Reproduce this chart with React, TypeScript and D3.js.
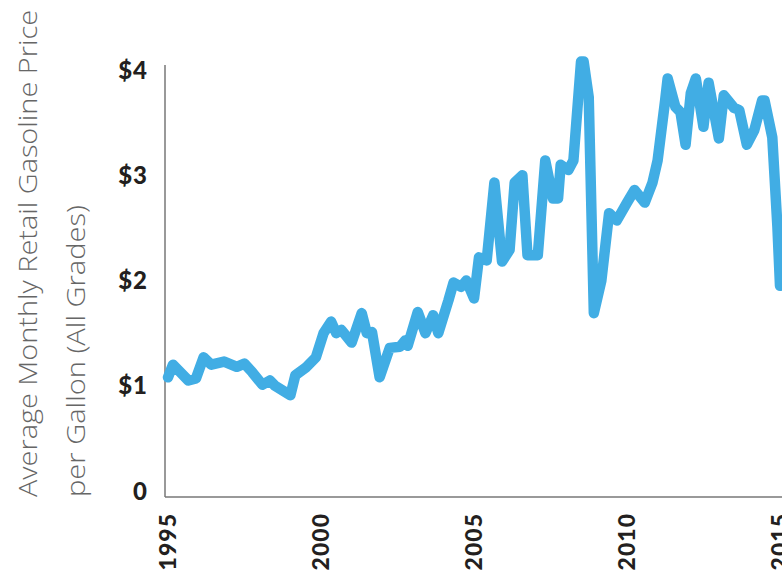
import { useEffect, useRef } from "react"
import * as d3 from "d3"

// monthly average retail gasoline price, all grades
const months = [
  "1995-01", "1995-03", "1995-09", "1995-12", "1996-03", "1996-06", "1996-11", "1997-04",
  "1997-07", "1997-10", "1998-02", "1998-05", "1998-07", "1999-01", "1999-03", "1999-07",
  "1999-11", "2000-02", "2000-05", "2000-07", "2000-09", "2001-01", "2001-05", "2001-07",
  "2001-09", "2001-12", "2002-04", "2002-08", "2002-10", "2002-11", "2003-03", "2003-06",
  "2003-09", "2003-11", "2004-03", "2004-05", "2004-08", "2004-10", "2005-01", "2005-03",
  "2005-06", "2005-09", "2005-12", "2006-03", "2006-05", "2006-08", "2006-10", "2007-02",
  "2007-05", "2007-08", "2007-10", "2007-11", "2008-02", "2008-04", "2008-07", "2008-08",
  "2008-10", "2008-12", "2009-03", "2009-06", "2009-09", "2010-01", "2010-04", "2010-08",
  "2010-11", "2011-01", "2011-04", "2011-05", "2011-08", "2011-10", "2011-12", "2012-02",
  "2012-04", "2012-07", "2012-09", "2013-01", "2013-03", "2013-07", "2013-09", "2013-12",
  "2014-03", "2014-06", "2014-07", "2014-10", "2014-12", "2015-01", "2015-03",
]
const prices = [
  1.08, 1.2, 1.05, 1.07, 1.27, 1.2, 1.23, 1.18,
  1.21, 1.13, 1.01, 1.05, 1.0, 0.91, 1.1, 1.17,
  1.27, 1.5, 1.61, 1.5, 1.53, 1.41, 1.69, 1.5,
  1.51, 1.08, 1.36, 1.37, 1.43, 1.38, 1.7, 1.5,
  1.67, 1.5, 1.81, 1.98, 1.94, 2.0, 1.83, 2.22,
  2.19, 2.93, 2.18, 2.29, 2.93, 3.0, 2.24, 2.24,
  3.14, 2.78, 2.78, 3.1, 3.05, 3.14, 4.08, 4.08,
  3.74, 1.69, 2.0, 2.64, 2.57, 2.74, 2.86, 2.74,
  2.93, 3.14, 3.71, 3.92, 3.65, 3.6, 3.29, 3.78,
  3.92, 3.46, 3.88, 3.35, 3.76, 3.64, 3.62, 3.29,
  3.43, 3.71, 3.71, 3.36, 2.51, 1.95, 2.3,
]
const yTicks = [0, 1, 2, 3, 4]
const xTickYears = [1995, 2000, 2005, 2010, 2015]
const titleLines = ["Average Monthly Retail Gasoline Price", "per Gallon (All Grades)"]
const titleLengths = [487, 292]

const W = 782
const H = 584

const App = () => {
  const svgRef = useRef<SVGSVGElement>(null)

  useEffect(() => {
    const svg = d3.select(svgRef.current)
    svg.selectAll("*").remove()

    const parseMonth = d3.timeParse("%Y-%m")
    const data = months.map((m, i) => ({ date: parseMonth(m) as Date, value: prices[i] }))

    const x = d3
      .scaleTime()
      .domain([new Date(1995, 0, 1), new Date(2015, 0, 1)])
      .range([168, 780])
    const y = d3.scaleLinear().domain([0, 4]).range([491, 70])

    const axisX = 165
    const axisBottom = 497
    const tickFont = "Lato, 'DejaVu Sans', sans-serif"

    // axis lines
    svg.append("line")
      .attr("x1", axisX).attr("x2", axisX)
      .attr("y1", 65).attr("y2", axisBottom)
      .attr("stroke", "#777").attr("stroke-width", 1.5)
    svg.append("line")
      .attr("x1", axisX).attr("x2", W)
      .attr("y1", axisBottom).attr("y2", axisBottom)
      .attr("stroke", "#777").attr("stroke-width", 1.5)

    // y tick labels
    svg.append("g")
      .selectAll("text")
      .data(yTicks)
      .join("text")
      .attr("x", 148)
      .attr("y", (d) => y(d))
      .attr("dy", "0.36em")
      .attr("text-anchor", "end")
      .style("font-family", tickFont)
      .style("font-weight", 900)
      .style("font-size", "24px")
      .style("letter-spacing", "1px")
      .style("fill", "#231f20")
      .text((d) => (d === 0 ? "0" : `$${d}`))

    // x tick labels, rotated
    svg.append("g")
      .selectAll("text")
      .data(xTickYears)
      .join("text")
      .attr("transform", (d) => `translate(${x(new Date(d, 0, 1))},513) rotate(-90)`)
      .attr("dy", "0.36em")
      .attr("text-anchor", "end")
      .style("font-family", tickFont)
      .style("font-weight", 900)
      .style("font-size", "23px")
      .style("letter-spacing", "1px")
      .style("fill", "#231f20")
      .text((d) => d)

    // y axis title
    svg.append("g")
      .selectAll("text")
      .data(titleLines)
      .join("text")
      .attr("transform", (_, i) => `translate(${37 + i * 48},497) rotate(-90)`)
      .attr("text-anchor", "start")
      .attr("textLength", (_, i) => titleLengths[i])
      .attr("lengthAdjust", "spacingAndGlyphs")
      .style("font-family", "'Open Sans', sans-serif")
      .style("font-weight", 300)
      .style("font-size", "25px")
      .style("fill", "#666")
      .text((d) => d)

    const line = d3
      .line<{ date: Date; value: number }>()
      .x((d) => x(d.date))
      .y((d) => y(d.value))

    svg.append("path")
      .datum(data)
      .attr("fill", "none")
      .attr("stroke", "#41ade4")
      .attr("stroke-width", 10.5)
      .attr("stroke-linejoin", "round")
      .attr("stroke-linecap", "round")
      .attr("d", line)
  }, [])

  return (
    <svg
      ref={svgRef}
      width={W}
      height={H}
      style={{ position: "absolute", left: 0, top: 0, background: "#fff" }}
    ></svg>
  )
}

export default App
